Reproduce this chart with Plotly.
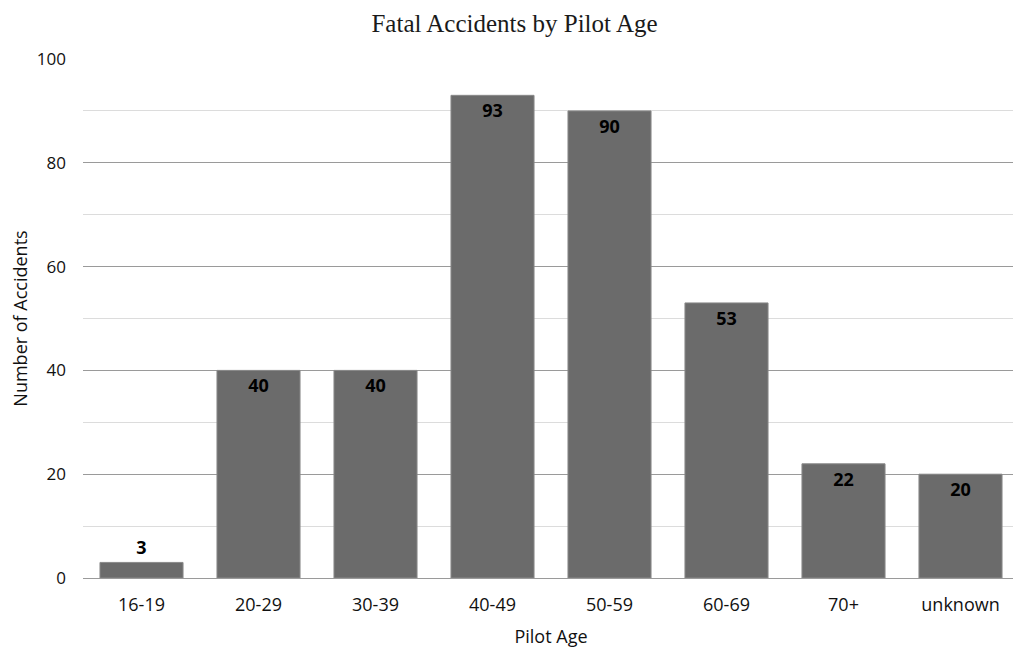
import plotly.graph_objects as go

categories = ["16-19", "20-29", "30-39", "40-49", "50-59", "60-69", "70+", "unknown"]
accidents = [3, 40, 40, 93, 90, 53, 22, 20]
title_text = "Fatal Accidents by Pilot Age"
x_title = "Pilot Age"
y_title = "Number of Accidents"

positions = ["outside" if v < 8 else "inside" for v in accidents]

fig = go.Figure(go.Bar(
    x=categories, y=accidents,
    text=[str(v) for v in accidents],
    textposition=positions,
    insidetextanchor="end",
    cliponaxis=False,
    textfont=dict(family="Open Sans", size=18, color="black", weight="bold"),
    marker=dict(color="#6b6b6b", line=dict(color="#8a8a8a", width=1)),
    width=0.71,
))

fig.update_layout(
    width=1013, height=641,
    paper_bgcolor="white", plot_bgcolor="white",
    margin=dict(l=75, r=2, t=51, b=71),
    showlegend=False,
    title=dict(text=title_text, x=0.5, xanchor="center", y=0.976, yanchor="middle",
               font=dict(family="Liberation Serif", size=25, color="#1a1a1a")),
    font=dict(family="Open Sans", size=17, color="#111"),
)
fig.update_xaxes(
    title=dict(text=x_title, font=dict(size=18), standoff=15),
    showgrid=False, showline=False, ticks="", ticklabelstandoff=14,
    tickfont=dict(size=18),
)
fig.update_yaxes(
    title=dict(text=y_title, font=dict(size=18), standoff=14),
    range=[0, 100], dtick=20, showgrid=True, gridcolor="#9a9a9a", gridwidth=1,
    zeroline=True, zerolinecolor="#9a9a9a", zerolinewidth=1,
    minor=dict(dtick=10, showgrid=True, gridcolor="#dcdcdc", gridwidth=1),
    ticks="", ticklabelstandoff=16, tickfont=dict(size=17), showline=False,
)

fig.write_html("out.html")
